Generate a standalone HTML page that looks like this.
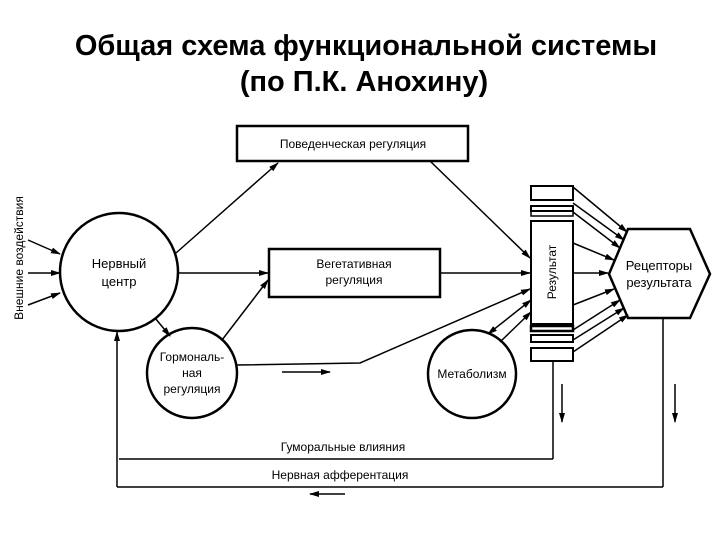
<!DOCTYPE html>
<html><head><meta charset="utf-8"><style>
html,body{margin:0;padding:0;background:#fff;}
svg{display:block;}
text{font-family:"Liberation Sans",Arial,sans-serif;fill:#000;}
</style></head><body>
<svg width="720" height="540" viewBox="0 0 720 540" xmlns="http://www.w3.org/2000/svg">
<defs>
<marker id="a" markerWidth="10" markerHeight="8" refX="9" refY="4" orient="auto" markerUnits="userSpaceOnUse">
<path d="M0,1 L10,4 L0,7 Z" fill="#000"/>
</marker>
<marker id="b" markerWidth="10" markerHeight="8" refX="1" refY="4" orient="auto" markerUnits="userSpaceOnUse">
<path d="M10,1 L0,4 L10,7 Z" fill="#000"/>
</marker>
</defs>
<text x="366" y="55" font-size="29" font-weight="bold" text-anchor="middle">Общая схема функциональной системы</text>
<text x="364" y="91" font-size="29" font-weight="bold" text-anchor="middle">(по П.К. Анохину)</text>

<g stroke="#000" fill="none" stroke-width="1.5">
<rect x="237" y="126" width="231" height="35" stroke-width="2.5"/>
<rect x="269" y="249" width="171" height="48" stroke-width="2.5"/>
<circle cx="119" cy="272" r="59" stroke-width="2.5"/>
<circle cx="192" cy="373" r="45" stroke-width="2.5"/>
<circle cx="472" cy="374" r="44" stroke-width="2.5"/>
<polygon points="609,274 628,229 690,229 710,274 690,318 628,318" stroke-width="2.5"/>
<rect x="531" y="186" width="42" height="14" stroke-width="2"/>
<rect x="531" y="206" width="42" height="5" stroke-width="2"/>
<rect x="531" y="211" width="42" height="5" stroke-width="1.5"/>
<rect x="531" y="221" width="42" height="103" stroke-width="2"/>
<rect x="531" y="326" width="42" height="5" stroke-width="2.5"/>
<rect x="531" y="335" width="42" height="7" stroke-width="2"/>
<rect x="531" y="348" width="42" height="13" stroke-width="2"/>

<line x1="28" y1="240" x2="60" y2="254" marker-end="url(#a)"/>
<line x1="28" y1="273" x2="60" y2="273" marker-end="url(#a)"/>
<line x1="28" y1="305" x2="60" y2="293" marker-end="url(#a)"/>
<line x1="176" y1="253" x2="278" y2="163" marker-end="url(#a)"/>
<line x1="178" y1="273" x2="268" y2="273" marker-end="url(#a)"/>
<line x1="155" y1="318" x2="170" y2="336" marker-end="url(#a)"/>
<line x1="222" y1="340" x2="268" y2="280" marker-end="url(#a)"/>
<polyline points="237,365 360,363 530,289" marker-end="url(#a)"/>
<line x1="282" y1="372" x2="330" y2="372" marker-end="url(#a)"/>
<line x1="430" y1="161" x2="530" y2="258" marker-end="url(#a)"/>
<line x1="440" y1="273" x2="530" y2="273" marker-end="url(#a)"/>
<line x1="488" y1="334" x2="531" y2="300" marker-start="url(#b)" marker-end="url(#a)"/>
<line x1="500" y1="342" x2="531" y2="312" marker-end="url(#a)"/>
<line x1="573" y1="187" x2="627" y2="232" marker-end="url(#a)"/>
<line x1="573" y1="203" x2="624" y2="240" marker-end="url(#a)"/>
<line x1="573" y1="212" x2="620" y2="248" marker-end="url(#a)"/>
<line x1="573" y1="243" x2="614" y2="260" marker-end="url(#a)"/>
<line x1="573" y1="273" x2="608" y2="273" marker-end="url(#a)"/>
<line x1="573" y1="305" x2="614" y2="289" marker-end="url(#a)"/>
<line x1="573" y1="330" x2="620" y2="300" marker-end="url(#a)"/>
<line x1="573" y1="340" x2="624" y2="308" marker-end="url(#a)"/>
<line x1="573" y1="352" x2="628" y2="315" marker-end="url(#a)"/>
<line x1="553" y1="361" x2="553" y2="459"/>
<line x1="119" y1="459" x2="553" y2="459"/>
<line x1="663" y1="318" x2="663" y2="487"/>
<line x1="117" y1="487" x2="663" y2="487"/>
<line x1="117" y1="487" x2="117" y2="332" marker-end="url(#a)"/>
<line x1="562" y1="384" x2="562" y2="422" marker-end="url(#a)"/>
<line x1="675" y1="384" x2="675" y2="422" marker-end="url(#a)"/>
<line x1="345" y1="494" x2="310" y2="494" marker-end="url(#a)"/>
</g>

<text x="119" y="268" font-size="13" text-anchor="middle">Нервный</text>
<text x="119" y="286" font-size="13" text-anchor="middle">центр</text>
<text x="353" y="148" font-size="12" text-anchor="middle">Поведенческая регуляция</text>
<text x="354" y="268" font-size="12" text-anchor="middle">Вегетативная</text>
<text x="354" y="284" font-size="12" text-anchor="middle">регуляция</text>
<text x="192" y="361" font-size="12" text-anchor="middle">Гормональ-</text>
<text x="192" y="377" font-size="12" text-anchor="middle">ная</text>
<text x="192" y="393" font-size="12" text-anchor="middle">регуляция</text>
<text x="472" y="378" font-size="12" text-anchor="middle">Метаболизм</text>
<text x="659" y="270" font-size="13" text-anchor="middle">Рецепторы</text>
<text x="659" y="287" font-size="13" text-anchor="middle">результата</text>
<text transform="translate(556,272) rotate(-90)" font-size="12" text-anchor="middle">Результат</text>
<text transform="translate(23,258) rotate(-90)" font-size="12" text-anchor="middle">Внешние воздействия</text>
<text x="343" y="451" font-size="12" text-anchor="middle">Гуморальные влияния</text>
<text x="340" y="479" font-size="12" text-anchor="middle">Нервная афферентация</text>
</svg>
</body></html>
